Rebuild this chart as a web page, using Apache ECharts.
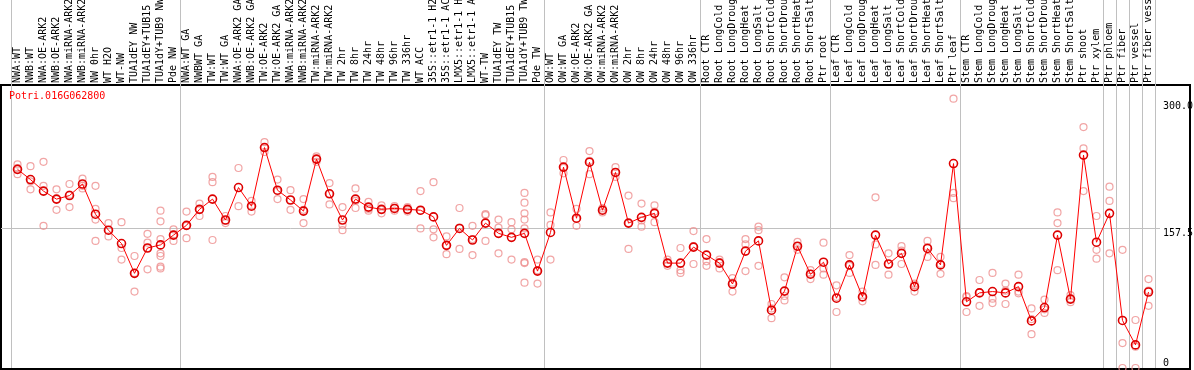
<!DOCTYPE html>
<html>
<head>
<meta charset="utf-8">
<script src="https://cdn.jsdelivr.net/npm/echarts@6/dist/echarts.min.js"></script>
<style>
html,body{margin:0;padding:0;background:#fff;}
#chart{width:1194px;height:370px;}
</style>
</head>
<body>
<div id="chart"></div>
<script>
const chartTitle = 'Potri.016G062800';
const categories = [
 'NWA:WT','NWB:WT','NWA:OE-ARK2','NWB:OE-ARK2','NWA:miRNA-ARK2','NWB:miRNA-ARK2','NW 0hr','WT H2O','WT-NW','TUA1dEY NW','TUA1dEY+TUB15 NW','TUA1dY+TUB9 NW','Pde NW',
 'NWA:WT GA','NWBWT GA','TW:WT','TW:WT GA','NWA:OE-ARK2 GA','NWB:OE-ARK2 GA','TW:OE-ARK2','TW:OE-ARK2 GA','NWA:miRNA-ARK2','NWB:miRNA-ARK2','TW:miRNA-ARK2','TW:miRNA-ARK2','TW 2hr','TW 8hr','TW 24hr','TW 48hr','TW 96hr','TW 336hr','WT ACC','35S::etr1-1 H2O','35S::etr1-1 ACC','LMX5::etr1-1 H2O','LMX5::etr1-1 ACC','WT-TW','TUA1dEY TW','TUA1dEY+TUB15 TW','TUA1dY+TUB9 TW','Pde TW',
 'OW:WT','OW:WT GA','OW:OE-ARK2','OW:OE-ARK2 GA','OW:miRNA-ARK2','OW:miRNA-ARK2','OW 2hr','OW 8hr','OW 24hr','OW 48hr','OW 96hr','OW 336hr',
 'Root CTR','Root LongCold','Root LongDrought','Root LongHeat','Root LongSalt','Root ShortCold','Root ShortDrought','Root ShortHeat','Root ShortSalt','Ptr root',
 'Leaf CTR','Leaf LongCold','Leaf LongDrought','Leaf LongHeat','Leaf LongSalt','Leaf ShortCold','Leaf ShortDrought','Leaf ShortHeat','Leaf ShortSalt','Ptr leaf',
 'Stem CTR','Stem LongCold','Stem LongDrought','Stem LongHeat','Stem LongSalt','Stem ShortCold','Stem ShortDrought','Stem ShortHeat','Stem ShortSalt','Ptr shoot','Ptr xylem',
 'Ptr phloem','Ptr fiber','Ptr vessel','Ptr fiber vessel'
];
const groupStarts = [0, 13, 41, 53, 63, 73, 84, 85, 86, 87, 88];
const meanValues = [
 223.5,212,199,190,194,207,173,155,140,106.5,135,138.5,149.5,
 160.5,178.5,190,166.5,203,182,248,200,189,176.5,235,196,166.5,190,181,178.5,179.5,178.5,177.5,170,138,157,144,163,151.5,147,151.5,109,
 152.5,226,168.5,231.5,177.5,220,163,169.5,174,118,118,136,
 127,118,94.5,131.5,143,65,86.5,137,105.5,119,
 78.5,116,80,149.5,117,129,91.5,134.5,116,230,
 74.5,84.5,86,84.5,91.5,53,68,149.5,77.5,239.5,141.5,
 174,53.5,26,85.5
];
const replicateValues = [
 [229,225,218],[227,210,201],[232,205,160],[201,190,178],[207,195,181],[213,205,202],[205,179,167,143],[163,155,148],[164,135,122],[126,107,86],[151,141,135,111],[177,165,145,129,126,114,112],[156,150,143],
 [176,160,146],[185,178,171],[215,209,144],[171,166,163],[225,182],[188,182,176],[254,248,243],[212,199,190],[200,189,178],[190,178,163],[238,235,232],[208,196,184],[181,161,155],[202,188,180],[187,179,177],[183,178,174],[182,180,177],[181,178,176],[199,177,157],[209,156,147],[148,138,128],[180,158,134],[160,145,127],[173,172,143],[167,158,129],[164,156,122],[197,186,174,167,157,119,118,96],[122,110,95],
 [175,161,122],[234,225,219],[179,168,160],[244,233,218],[180,178,175],[226,220,215],[194,163,134],[185,166,159],[183,176,164],[122,118,115],[135,110,107],[154,137,117],
 [145,120,115],[122,119,112],[101,96,86],[145,139,109],[159,155,115],[72,67,56],[102,81,76],[142,137,133],[110,106,100],[141,112,105],
 [93,80,63],[127,115,107],[86,80,75],[192,139,116],[129,117,105],[137,132,117],[95,93,86],[143,136,125],[125,117,106],[303,197,191],
 [81,80,63],[99,85,70],[107,78,73],[95,87,72],[105,86,84],[67,55,38],[77,66,62],[175,163,110],[82,78,74],[271,247,199],[171,133,123],
 [204,188,129],[133,28,0],[54,24,0],[100,87,70]
];
const yTickLabels = [0, 157.5, 300];
const yMax = 315;

const FONT = 'DejaVu Sans Mono';
const sepFn = (idx) => groupStarts.indexOf(idx) >= 0;
const scatterData = [];
replicateValues.forEach((arr, i) => arr.forEach(v => scatterData.push([i, v])));

const chart = echarts.init(document.getElementById('chart'), null, {renderer: 'canvas'});
chart.setOption({
  animation: false,
  backgroundColor: '#fff',
  title: {
    text: chartTitle, left: 9, top: 91, padding: 0,
    textStyle: {fontFamily: FONT, fontSize: 10, fontWeight: 'normal', color: '#ff0000'}
  },
  grid: [
    {left: 11, right: 39, top: 88, bottom: 2, outerBoundsMode: 'none', containLabel: false},
    {left: 11, right: 39, top: 0, height: 88, outerBoundsMode: 'none', containLabel: false},
    {left: 1, right: 34, top: 88, bottom: 2, outerBoundsMode: 'none', containLabel: false},
    {left: 1, right: 4, top: 85, bottom: 1, show: true, borderColor: '#000', borderWidth: 2, backgroundColor: 'transparent', outerBoundsMode: 'none', containLabel: false}
  ],
  xAxis: [
    {
      gridIndex: 0, type: 'category', data: categories, position: 'top', boundaryGap: true,
      axisLine: {show: false}, axisTick: {show: false},
      axisLabel: {interval: 0, rotate: 90, margin: 5, fontFamily: FONT, fontSize: 10, color: '#000', hideOverlap: false},
      splitLine: {show: true, interval: sepFn, lineStyle: {color: '#c0c0c0', width: 1}}
    },
    {
      gridIndex: 1, type: 'category', data: categories, boundaryGap: true,
      axisLine: {show: false}, axisTick: {show: false}, axisLabel: {show: false},
      splitLine: {show: true, interval: sepFn, lineStyle: {color: '#c0c0c0', width: 1}}
    },
    {gridIndex: 2, type: 'value', show: false},
    {gridIndex: 3, type: 'value', show: false}
  ],
  yAxis: [
    {
      gridIndex: 0, type: 'value', min: 0, max: yMax, interval: yMax / 2, position: 'right',
      axisLine: {show: false}, axisTick: {show: false}, splitLine: {show: false},
      axisLabel: {
        customValues: yTickLabels, margin: 8, align: 'left', verticalAlign: 'top', verticalAlignMinLabel: 'bottom',
        fontFamily: FONT, fontSize: 10, color: '#000',
        formatter: v => v === 0 ? '0' : v.toFixed(1)
      }
    },
    {gridIndex: 1, type: 'value', show: false},
    {
      gridIndex: 2, type: 'value', min: 0, max: yMax, interval: yMax / 2,
      axisLine: {show: false}, axisTick: {show: false}, axisLabel: {show: false},
      splitLine: {show: true, showMinLine: false, showMaxLine: false, lineStyle: {color: '#c0c0c0', width: 1}}
    },
    {gridIndex: 3, type: 'value', show: false}
  ],
  series: [
    {
      type: 'scatter', xAxisIndex: 0, yAxisIndex: 0, data: scatterData,
      symbol: 'circle', symbolSize: 7, z: 2,
      itemStyle: {color: 'rgba(0,0,0,0)', borderColor: '#ee8e8e', borderWidth: 1.2}
    },
    {
      type: 'line', xAxisIndex: 0, yAxisIndex: 0, data: meanValues,
      symbol: 'circle', symbolSize: 8, showAllSymbol: true, z: 3,
      lineStyle: {color: '#ff0000', width: 1},
      itemStyle: {color: 'rgba(0,0,0,0)', borderColor: '#dd0000', borderWidth: 1.6}
    }
  ]
});
</script>
</body>
</html>
